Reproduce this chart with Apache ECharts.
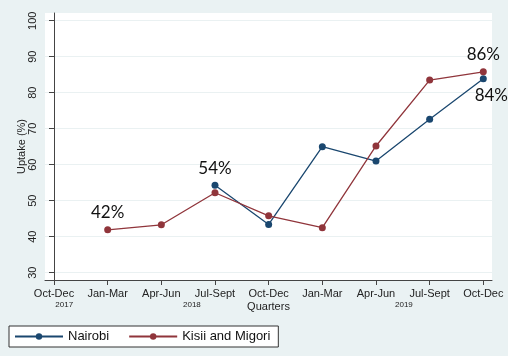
<!DOCTYPE html>
<html><head><meta charset="utf-8">
<script src="https://cdn.jsdelivr.net/npm/echarts@6/dist/echarts.min.js"></script>
<style>html,body{margin:0;padding:0;background:#EAF2F3}#c{width:508px;height:356px}</style>
</head><body><div id="c"></div>
<script>
// ---- data ----
const quarters = ['Oct-Dec','Jan-Mar','Apr-Jun','Jul-Sept','Oct-Dec','Jan-Mar','Apr-Jun','Jul-Sept','Oct-Dec'];
const yearLabels = ['2017','2018','2019'];
const nairobi = [null, null, null, 54.3, 43.4, 65.0, 61.0, 72.6, 83.9];
const kisiiMigori = [null, 41.9, 43.3, 52.2, 45.8, 42.5, 65.2, 83.5, 85.8];
const yTicks = [30, 40, 50, 60, 70, 80, 90, 100];
const xTicks = quarters.map((q, i) => i);

// ---- layout/style (not data) ----
const yearPos = [0.19, 2.57, 6.52];
const labelFont = 'Liberation Sans, Arial, sans-serif';
const pctFont = 'Lato, "Noto Sans", sans-serif';

function buildSeriesData(values, labelSpec) {
  const out = [];
  values.forEach((v, i) => {
    if (v === null) return;
    const item = { value: [i, v] };
    if (labelSpec[i]) item.label = Object.assign({ show: true }, labelSpec[i]);
    out.push(item);
  });
  return out;
}
const pctLabel = {
  formatter: p => Math.round(p.value[1]) + '%',
  fontFamily: pctFont, fontSize: 17, color: '#111', distance: 5
};

const chart = echarts.init(document.getElementById('c'), null, { renderer: 'canvas' });
const option = {
  animation: false,
  backgroundColor: '#EAF2F3',
  grid: { left: 45, right: 16, top: 13, bottom: 76, show: true, backgroundColor: '#ffffff', borderWidth: 0 },
  xAxis: {
    type: 'value', min: -0.168, max: 8.162,
    axisLine: { show: true, lineStyle: { color: '#444', width: 1 } },
    axisTick: { show: true, length: 5, customValues: xTicks, lineStyle: { color: '#444' } },
    axisLabel: { customValues: xTicks, formatter: v => quarters[Math.round(v)], margin: 8,
      fontFamily: labelFont, fontSize: 11, color: '#222' },
    splitLine: { show: false },
    name: 'Quarters', nameLocation: 'middle', nameGap: 21, nameMoveOverlap: false,
    nameTextStyle: { fontFamily: labelFont, fontSize: 11, color: '#222' }
  },
  yAxis: {
    type: 'value', min: 27.97, max: 102.14,
    axisLine: { show: true, lineStyle: { color: '#444', width: 1 } },
    axisTick: { show: true, length: 5, customValues: yTicks, lineStyle: { color: '#444' } },
    axisLabel: { customValues: yTicks, rotate: 90, margin: 7,
      fontFamily: labelFont, fontSize: 11, color: '#222' },
    splitLine: { show: true, lineStyle: { color: '#EAF1F2', width: 1 } },
    name: 'Uptake (%)', nameLocation: 'middle', nameGap: 18, nameRotate: 90, nameMoveOverlap: false,
    nameTextStyle: { fontFamily: labelFont, fontSize: 11, color: '#222' }
  },
  legend: {
    data: ['Nairobi', 'Kisii and Migori'],
    left: 9, top: 326, orient: 'horizontal',
    itemWidth: 48, itemHeight: 8, itemGap: 19,
    padding: [4, 8, 4, 5],
    borderColor: '#333', borderWidth: 1, backgroundColor: '#ffffff',
    textStyle: { fontFamily: labelFont, fontSize: 13, color: '#111' }
  },
  series: [
    {
      name: 'Nairobi', type: 'line',
      data: buildSeriesData(nairobi, {
        3: Object.assign({ position: 'top' }, pctLabel),
        8: Object.assign({ position: 'bottom', offset: [8, 0] }, pctLabel)
      }),
      symbol: 'circle', symbolSize: 7,
      itemStyle: { color: '#1a476f' },
      lineStyle: { color: '#1a476f', width: 1.3 }
    },
    {
      name: 'Kisii and Migori', type: 'line',
      data: buildSeriesData(kisiiMigori, {
        1: Object.assign({ position: 'top' }, pctLabel),
        8: Object.assign({ position: 'top' }, pctLabel)
      }),
      symbol: 'circle', symbolSize: 7,
      itemStyle: { color: '#90353b' },
      lineStyle: { color: '#90353b', width: 1.3 }
    }
  ]
};
chart.setOption(option);

const axisY = chart.convertToPixel({ yAxisIndex: 0 }, 27.97);
chart.setOption({
  graphic: yearLabels.map((t, k) => ({
    type: 'text',
    x: chart.convertToPixel({ xAxisIndex: 0 }, yearPos[k]),
    y: axisY + 25,
    style: { text: t, fontFamily: labelFont, fontSize: 8, fill: '#222', textAlign: 'center', textVerticalAlign: 'middle' }
  }))
});
</script>
</body></html>
